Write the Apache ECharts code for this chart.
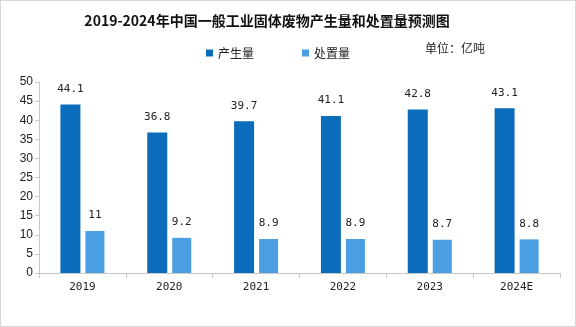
<!DOCTYPE html>
<html><head><meta charset="utf-8">
<script src="https://cdn.jsdelivr.net/npm/echarts@6/dist/echarts.min.js"></script>
<style>html,body{margin:0;padding:0;background:#fff}#c{width:574px;height:325px;border:1px solid #d8d8d8}</style>
</head><body><div id="c"></div>
<script>
var categories = ['2019','2020','2021','2022','2023','2024E'];
var produced = [44.1, 36.8, 39.7, 41.1, 42.8, 43.1];
var disposed = [11, 9.2, 8.9, 8.9, 8.7, 8.8];
var yTicks = [0,5,10,15,20,25,30,35,40,45,50];
var font = '"Noto Sans CJK SC", sans-serif';
var chart = echarts.init(document.getElementById('c'));
chart.setOption({
  animation:false,
  title:{text:'2019-2024年中国一般工业固体废物产生量和处置量预测图',left:261,textAlign:'center',top:8,
    textStyle:{fontFamily:font,fontSize:14,fontWeight:'bold',color:'#111'}},
  legend:{data:['产生量','处置量'],left:200,top:41,itemWidth:7,itemHeight:7,itemGap:48,icon:'rect',
    textStyle:{fontFamily:font,fontSize:12,color:'#222'}},
  graphic:[{type:'text',left:424,top:41,style:{text:'单位：亿吨',font:'12px "Noto Sans CJK SC"',fill:'#222'}}],
  grid:{left:38,right:15,top:81,bottom:53},
  xAxis:{type:'category',data:categories,
    axisLine:{lineStyle:{color:'#c8c8c8'}},axisTick:{show:true,length:5,lineStyle:{color:'#c8c8c8'}},
    axisLabel:{margin:9,fontFamily:'"DejaVu Sans Mono", monospace',fontSize:11,color:'#222'}},
  yAxis:{type:'value',min:yTicks[0],max:yTicks[yTicks.length-1],interval:5,
    axisLine:{show:true,lineStyle:{color:'#c8c8c8'}},axisTick:{show:true,length:4,lineStyle:{color:'#c8c8c8'}},
    splitLine:{show:false},
    axisLabel:{margin:6,fontFamily:'"Liberation Sans", sans-serif',fontSize:12,color:'#222'}},
  series:[
    {name:'产生量',type:'bar',data:produced,barWidth:20,barGap:'25%',itemStyle:{color:'#0A6CBA'},
     label:{show:true,position:'top',distance:10,fontFamily:'"DejaVu Sans Mono", monospace',fontSize:11,color:'#222'}},
    {name:'处置量',type:'bar',data:disposed,barWidth:19,itemStyle:{color:'#4A9EE2'},
     label:{show:true,position:'top',distance:10,fontFamily:'"DejaVu Sans Mono", monospace',fontSize:11,color:'#222'}}
  ]
});
</script></body></html>
